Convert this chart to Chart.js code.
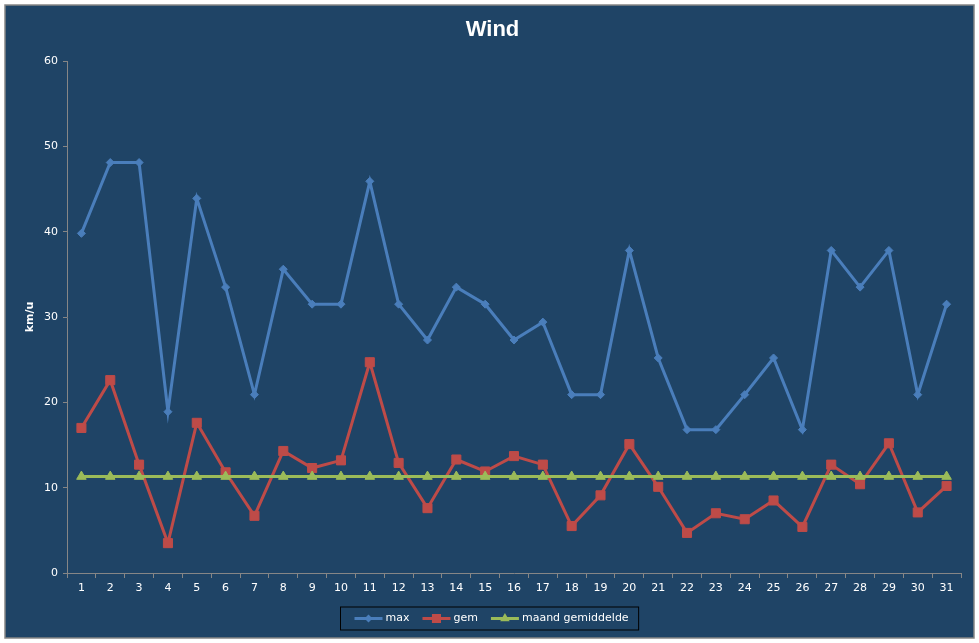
<!DOCTYPE html>
<html>
<head>
<meta charset="utf-8">
<title>Wind</title>
<script src="https://cdn.jsdelivr.net/npm/chart.js@4.4.0/dist/chart.umd.min.js"></script>
<style>
    html, body { margin: 0; padding: 0; background: #ffffff; }
    #wrap { width: 979px; height: 643px; position: relative; }
</style>
</head>
<body>
<div id="wrap"><canvas id="windChart"></canvas></div>
<script>
// Gegevens - wind per dag (km/u)
const dagen = ['1', '2', '3', '4', '5', '6', '7', '8', '9', '10', '11', '12', '13', '14', '15', '16',
    '17', '18', '19', '20', '21', '22', '23', '24', '25', '26', '27', '28', '29', '30', '31'];
const maxWind = [39.8, 48.1, 48.1, 18.9, 43.9, 33.5, 20.9, 35.6, 31.5, 31.5, 45.9, 31.5, 27.3, 33.5, 31.5, 27.3,
    29.4, 20.9, 20.9, 37.8, 25.2, 16.8, 16.8, 20.9, 25.2, 16.8, 37.8, 33.5, 37.8, 20.9, 31.5];
const gemWind = [17.0, 22.6, 12.7, 3.5, 17.6, 11.8, 6.7, 14.3, 12.3, 13.2, 24.7, 12.9, 7.6, 13.3, 11.9, 13.7,
    12.7, 5.5, 9.1, 15.1, 10.1, 4.7, 7.0, 6.3, 8.5, 5.4, 12.7, 10.4, 15.2, 7.1, 10.2];
const maandGem = [11.3, 11.3, 11.3, 11.3, 11.3, 11.3, 11.3, 11.3, 11.3, 11.3, 11.3, 11.3, 11.3, 11.3, 11.3, 11.3,
    11.3, 11.3, 11.3, 11.3, 11.3, 11.3, 11.3, 11.3, 11.3, 11.3, 11.3, 11.3, 11.3, 11.3, 11.3];
const yTicks = [0, 10, 20, 30, 40, 50, 60];

const achtergrond = '#1f4466';
const asKleur = '#868686';
const tekstKleur = '#ffffff';
const tickFont = { family: '"DejaVu Sans", Verdana, sans-serif', size: 11 };

// Achtergrond met rand
const achtergrondPlugin = {
    id: 'achtergrond',
    beforeDraw(chart) {
        const ctx = chart.ctx;
        ctx.save();
        ctx.fillStyle = '#ffffff';
        ctx.fillRect(0, 0, chart.width, chart.height);
        ctx.fillStyle = achtergrond;
        ctx.fillRect(5, 5, chart.width - 10, chart.height - 10);
        ctx.strokeStyle = asKleur;
        ctx.lineWidth = 1.5;
        ctx.strokeRect(5, 5, chart.width - 10, chart.height - 10);
        ctx.restore();
    }
};

// Legenda zoals in Excel: lijn met markering
function tekenMarker(ctx, stijl, x, y, r) {
    ctx.beginPath();
    if (stijl === 'rectRot') {
        ctx.moveTo(x, y - r); ctx.lineTo(x + r, y); ctx.lineTo(x, y + r); ctx.lineTo(x - r, y);
    } else if (stijl === 'rect') {
        const s = r * Math.SQRT1_2;
        ctx.rect(x - s, y - s, 2 * s, 2 * s);
    } else {
        ctx.moveTo(x, y - r);
        ctx.lineTo(x + r * Math.sin(Math.PI * 2 / 3), y + r / 2);
        ctx.lineTo(x - r * Math.sin(Math.PI * 2 / 3), y + r / 2);
    }
    ctx.closePath();
    ctx.fill();
}

const legendaPlugin = {
    id: 'legenda',
    afterDraw(chart) {
        const ctx = chart.ctx;
        const sets = chart.data.datasets;
        const lijn = 28, gat = 3, tussen = 13, padL = 14, padR = 10;
        ctx.save();
        ctx.font = '11px "DejaVu Sans", Verdana, sans-serif';
        const breedtes = sets.map(d => ctx.measureText(d.label).width);
        let totaal = padL + padR + tussen * (sets.length - 1);
        breedtes.forEach(b => { totaal += lijn + gat + b; });
        const x0 = Math.round(chart.width / 2 - totaal / 2) + 0.5;
        const yMid = chart.height - 24.5;
        ctx.strokeStyle = '#000000';
        ctx.lineWidth = 1;
        ctx.strokeRect(x0, yMid - 11.5, totaal, 23);
        let x = x0 + padL;
        sets.forEach((d, i) => {
            ctx.strokeStyle = d.borderColor;
            ctx.fillStyle = d.borderColor;
            ctx.lineWidth = d.borderWidth;
            ctx.beginPath();
            ctx.moveTo(x, yMid);
            ctx.lineTo(x + lijn, yMid);
            ctx.stroke();
            tekenMarker(ctx, d.pointStyle, x + lijn / 2, yMid, d.pointRadius);
            ctx.fillStyle = tekstKleur;
            ctx.textBaseline = 'middle';
            ctx.fillText(d.label, x + lijn + gat, yMid);
            x += lijn + gat + breedtes[i] + tussen;
        });
        ctx.restore();
    }
};

const ctx = document.getElementById('windChart').getContext('2d');
new Chart(ctx, {
    type: 'line',
    data: {
        labels: dagen,
        datasets: [
            {
                label: 'max',
                data: maxWind,
                borderColor: '#4a7ebb',
                backgroundColor: '#4a7ebb',
                borderWidth: 3,
                pointStyle: 'rectRot',
                pointRadius: 4,
                pointBorderWidth: 1,
                tension: 0,
                order: 3
            },
            {
                label: 'gem',
                data: gemWind,
                borderColor: '#be4b48',
                backgroundColor: '#be4b48',
                borderWidth: 3,
                pointStyle: 'rect',
                pointRadius: 6.4,
                pointBorderWidth: 1,
                tension: 0,
                order: 2
            },
            {
                label: 'maand gemiddelde',
                data: maandGem,
                borderColor: '#9bbb59',
                backgroundColor: '#9bbb59',
                borderWidth: 3,
                pointStyle: 'triangle',
                pointRadius: 5.5,
                pointBorderWidth: 1,
                tension: 0,
                order: 1
            }
        ]
    },
    options: {
        responsive: true,
        maintainAspectRatio: false,
        animation: false,
        devicePixelRatio: 1,
        layout: {
            padding: { left: 24, right: 18, top: 0, bottom: 40 }
        },
        plugins: {
            legend: { display: false },
            tooltip: { enabled: false },
            title: {
                display: true,
                text: 'Wind',
                color: tekstKleur,
                font: { family: '"Liberation Sans", Arial, sans-serif', size: 22, weight: 'bold' },
                padding: { top: 17, bottom: 17.6 }
            }
        },
        scales: {
            x: {
                offset: true,
                grid: {
                    offset: true,
                    drawOnChartArea: false,
                    drawTicks: true,
                    tickLength: 5,
                    color: asKleur
                },
                border: { color: asKleur, width: 1 },
                ticks: {
                    color: tekstKleur,
                    font: tickFont,
                    padding: 4,
                    maxRotation: 0,
                    autoSkip: false
                },
                afterFit: s => { s.height = 30; }
            },
            y: {
                min: 0,
                max: 60,
                afterBuildTicks: s => { s.ticks = yTicks.map(v => ({ value: v })); },
                grid: {
                    drawOnChartArea: false,
                    drawTicks: true,
                    tickLength: 4,
                    color: asKleur
                },
                border: { color: asKleur, width: 1 },
                ticks: {
                    color: tekstKleur,
                    font: tickFont,
                    padding: 5
                },
                title: {
                    display: true,
                    text: 'km/u',
                    color: tekstKleur,
                    font: { family: '"DejaVu Sans", Verdana, sans-serif', size: 11, weight: 'bold' },
                    padding: 0
                },
                afterFit: s => { s.width = 43; }
            }
        }
    },
    plugins: [achtergrondPlugin, legendaPlugin]
});
</script>
</body>
</html>
